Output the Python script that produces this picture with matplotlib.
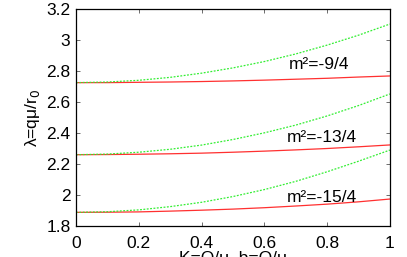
import matplotlib
matplotlib.use('Agg')
import matplotlib.pyplot as plt

plt.rcParams['font.family'] = ['Liberation Sans', 'DejaVu Sans']

x = [0.0, 0.1, 0.2, 0.3, 0.4, 0.5, 0.6, 0.7, 0.8, 0.9, 1.0]

# m^2 = -9/4
green_94 = [2.725, 2.729, 2.740, 2.759, 2.786, 2.820, 2.861, 2.910, 2.967, 3.031, 3.103]
red_94 = [2.725, 2.725, 2.727, 2.729, 2.732, 2.736, 2.741, 2.747, 2.753, 2.761, 2.768]
# m^2 = -13/4
green_134 = [2.260, 2.264, 2.276, 2.295, 2.322, 2.358, 2.401, 2.451, 2.510, 2.577, 2.652]
red_134 = [2.260, 2.261, 2.263, 2.266, 2.270, 2.276, 2.283, 2.291, 2.300, 2.311, 2.323]
# m^2 = -15/4
green_154 = [1.888, 1.892, 1.904, 1.925, 1.953, 1.990, 2.035, 2.088, 2.150, 2.218, 2.290]
red_154 = [1.888, 1.889, 1.891, 1.896, 1.902, 1.909, 1.918, 1.929, 1.941, 1.956, 1.974]

labels = ['m²=-9/4', 'm²=-13/4', 'm²=-15/4']
label_pos = [(0.678, 2.84), (0.672, 2.374), (0.672, 1.987)]

xticks = [0, 0.2, 0.4, 0.6, 0.8, 1]
xticklabels = ['0', '0.2', '0.4', '0.6', '0.8', '1']
yticks = [1.8, 2.0, 2.2, 2.4, 2.6, 2.8, 3.0, 3.2]
yticklabels = ['1.8', '2', '2.2', '2.4', '2.6', '2.8', '3', '3.2']

fs = 12.5

fig = plt.figure(figsize=(4.07, 2.57), dpi=100)
ax = fig.add_axes([0.1867, 0.1206, 0.7713, 0.8444])

for g, r in [(green_94, red_94), (green_134, red_134), (green_154, red_154)]:
    ax.plot(x, r, color='#ff3030', lw=0.9)
    ax.plot(x, g, color='#33ee33', lw=0.9, ls=(0, (1.5, 1.2)))

for lab, (lx, ly) in zip(labels, label_pos):
    ax.text(lx, ly, lab, fontsize=fs, va='center', ha='left')

ax.set_xlim(0, 1)
ax.set_ylim(1.8, 3.2)
ax.set_xticks(xticks)
ax.set_xticklabels(xticklabels, fontsize=fs)
ax.set_yticks(yticks)
ax.set_yticklabels(yticklabels, fontsize=fs)
ax.tick_params(axis='x', pad=7)
ax.tick_params(axis='y', pad=4)
ax.tick_params(direction='in', top=True, right=True, length=3, width=0.6, color='#555555')
for s in ax.spines.values():
    s.set_linewidth(0.9)

ax.set_ylabel('λ=qμ/r$_0$', fontsize=fs, labelpad=3)
fig.text(0.5 * (0.1867 + 0.958), 1 - 251 / 257, 'K=Q/μ, b=Q/μ', fontsize=fs, ha='center', va='top')

fig.savefig('out.png', dpi=100)
